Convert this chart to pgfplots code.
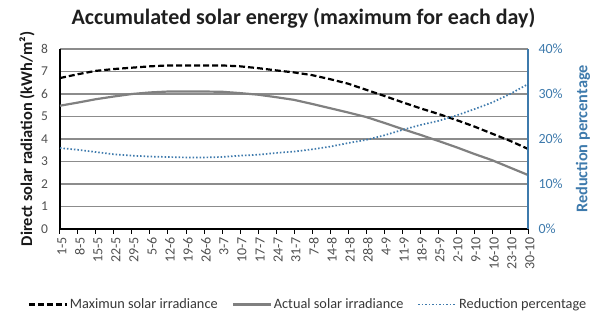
\documentclass[border=0pt]{standalone}
\usepackage{fontspec}
\setmainfont{Carlito}
\usepackage{pgfplots}
\pgfplotsset{compat=1.18}
\definecolor{gridgray}{RGB}{140,140,140}
\definecolor{actgray}{RGB}{128,128,128}
\definecolor{redblue}{RGB}{62,122,172}
\definecolor{ticktext}{RGB}{80,80,80}

\pgfplotstableread{
x maxirr actirr red
0  6.71 5.48 18.0
1  6.88 5.62 17.6
2  7.03 5.77 17.1
3  7.11 5.89 16.6
4  7.17 6.00 16.3
5  7.23 6.07 16.1
6  7.27 6.11 16.0
7  7.27 6.11 15.9
8  7.27 6.11 15.9
9  7.27 6.10 16.0
10 7.23 6.04 16.3
11 7.15 5.97 16.5
12 7.05 5.86 16.9
13 6.96 5.74 17.2
14 6.84 5.56 17.7
15 6.66 5.37 18.3
16 6.46 5.18 19.1
17 6.19 4.98 19.8
18 5.92 4.72 20.8
19 5.64 4.45 22.0
20 5.37 4.19 23.1
21 5.12 3.92 24.0
22 4.85 3.64 25.2
23 4.56 3.34 26.6
24 4.24 3.06 28.1
25 3.92 2.73 30.0
26 3.56 2.40 32.2
}\datatable

\begin{document}
\begin{tikzpicture}[x=1pt,y=1pt]
\useasboundingbox (-60,-87) rectangle (535,229);
\node[font=\fontsize{22}{22}\selectfont\bfseries, color=black!88] at (243.5,211) {Accumulated solar energy (maximum for each day)};
\begin{axis}[
  at={(0,0)}, anchor=south west,
  scale only axis, width=468pt, height=180pt,
  xmin=0, xmax=26, ymin=0, ymax=8,
  axis x line*=bottom, axis y line*=left,
  axis line style={black, line width=1.4pt, -},
  xtick={0,...,26},
  xticklabels={1-5,8-5,15-5,22-5,29-5,5-6,12-6,19-6,26-6,3-7,10-7,17-7,24-7,31-7,7-8,14-8,21-8,28-8,4-9,11-9,18-9,25-9,2-10,9-10,16-10,23-10,30-10},
  xticklabel style={rotate=90, anchor=east, font=\fontsize{14}{14}\selectfont, color=ticktext, yshift=-2pt},
  x tick style={black, line width=1pt},
  tick align=outside, major tick length=4.5pt,
  ytick={0,...,8},
  y tick style={draw=none},
  yticklabel style={font=\fontsize{13.5}{13.5}\selectfont, color=ticktext, xshift=-4pt},
  /pgf/number format/assume math mode=true,
  ymajorgrids, grid style={gridgray, line width=1.2pt},
  ylabel={Direct solar radiation (kWh/m²)},
  ylabel style={at={(axis description cs:-0.0705,0.5)}, anchor=center, font=\fontsize{16.4}{16.4}\selectfont\bfseries, color=black!90},
  legend style={at={(0.530,-0.42)}, anchor=center, draw=none, fill=none, legend columns=3,
    font=\fontsize{14.3}{14.3}\selectfont, text=black!78,
    /tikz/every even column/.append style={column sep=12pt}},
  legend cell align=left,
  legend image code/.code={\draw[#1] (0pt,0pt) -- (38pt,0pt);},
  clip=false,
]
\addplot[black, line width=2.2pt, dash pattern=on 6pt off 3pt] table[x=x, y=maxirr] {\datatable};
\addlegendentry{Maximun solar irradiance}
\addplot[actgray, line width=2.2pt] table[x=x, y=actirr] {\datatable};
\addlegendentry{Actual solar irradiance}
\addlegendimage{redblue, line width=1.7pt, dash pattern=on 1.5pt off 2pt}
\addlegendentry{Reduction percentage}
\end{axis}
\begin{axis}[
  at={(0,0)}, anchor=south west,
  scale only axis, width=468pt, height=180pt,
  xmin=0, xmax=26, ymin=0, ymax=40,
  axis x line=none, axis y line*=right,
  axis line style={redblue, line width=1.4pt, -},
  ytick={0,10,20,30,40},
  yticklabels={0\%,10\%,20\%,30\%,40\%},
  y tick style={draw=none},
  yticklabel style={font=\fontsize{14}{14}\selectfont, color=redblue, xshift=7pt},
  ylabel={Reduction percentage},
  ylabel style={at={(axis description cs:1.1175,0.5)}, anchor=center, font=\fontsize{16.3}{16.3}\selectfont\bfseries, color=redblue},
]
\addplot[redblue, line width=1.7pt, dash pattern=on 1.5pt off 2pt] table[x=x, y=red] {\datatable};
\end{axis}
\end{tikzpicture}
\end{document}
